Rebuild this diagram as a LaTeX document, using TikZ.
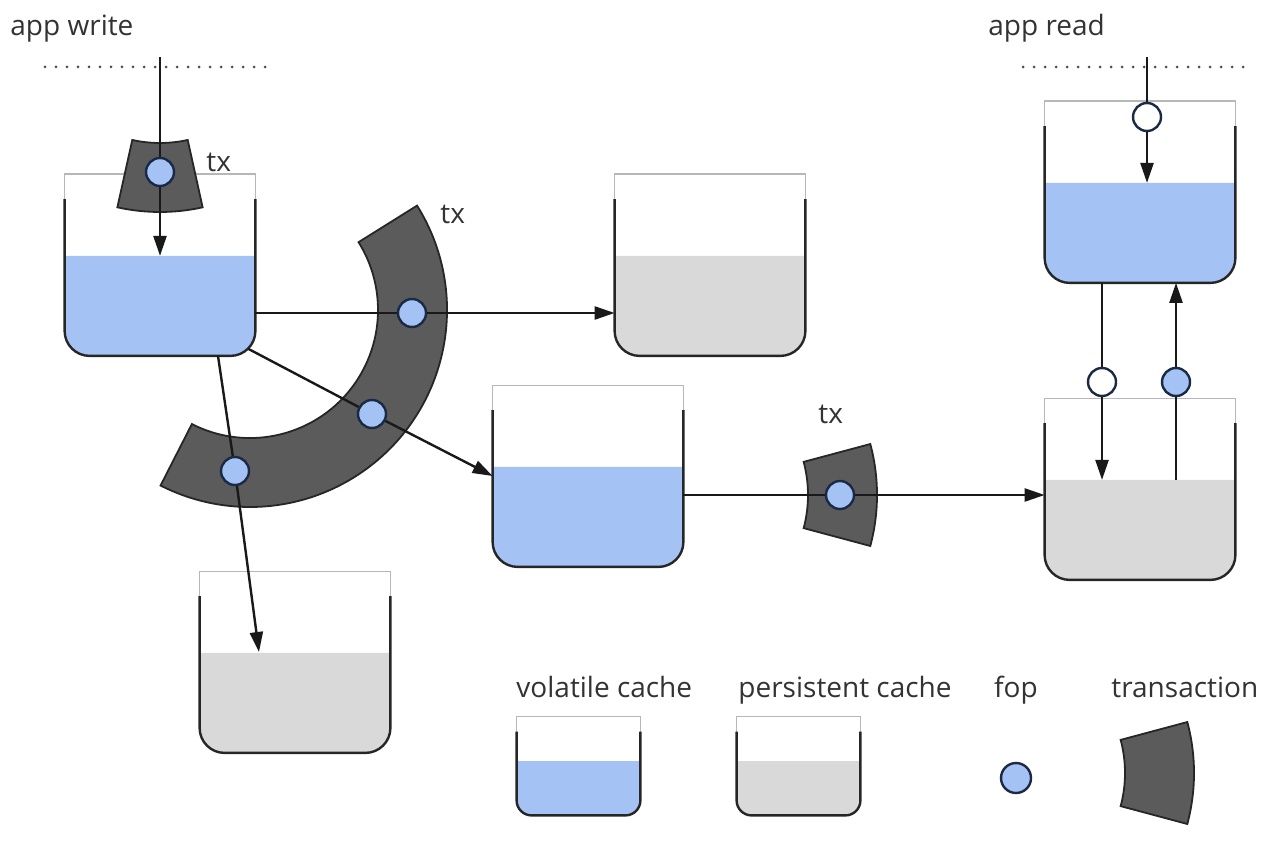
\documentclass[tikz,border=0pt]{standalone}
\usepackage{fontspec}
\setmainfont{Open Sans}
\usepackage{tikz}
\usetikzlibrary{arrows.meta,calc}

\definecolor{volblue}{HTML}{A4C2F4}
\definecolor{pergray}{HTML}{D9D9D9}
\definecolor{txgray}{HTML}{5B5B5B}
\definecolor{rimgray}{HTML}{B7B7B7}
\definecolor{fopline}{HTML}{1B2A44}
\definecolor{inkgray}{HTML}{333333}

\begin{document}
\begin{tikzpicture}[
    x=0.5pt, y=-0.5pt,
    font=\fontsize{14}{17}\selectfont,
    >={Triangle[length=10pt,width=6.5pt]},
    cache/.style={inner sep=0pt, minimum width=95pt, minimum height=90.5pt},
    small cache/.style={cache, minimum width=61.5pt, minimum height=49pt},
    fop/.style={circle, draw=fopline, line width=1.2pt, fill=volblue,
        inner sep=0pt, minimum size=14pt},
    empty fop/.style={fop, fill=white},
    band/.style={draw=black!85, line width=0.9pt, fill=txgray},
    flow/.style={->, line width=1.2pt, draw=black!90},
    cut/.style={line width=1.5pt, line cap=round, dash pattern=on 0pt off 5.5pt, draw=black!70},
    txt/.style={inner sep=0pt, text=inkgray, anchor=base west}
]
\useasboundingbox (0,0) rectangle (1277,845);

% Caches
\node[cache] (c1) at (160,265) {};
\node[cache] (c2) at (710,265) {};
\node[cache] (c3) at (588,476) {};
\node[cache] (c4) at (295,662) {};
\node[cache] (c5) at (1140,192) {};
\node[cache] (c6) at (1140,489) {};
\node[small cache] (lv) at (578.5,766) {};
\node[small cache] (lp) at (798.5,766) {};

\foreach \cn/\col/\rad in {c1/volblue/12.5, c2/pergray/12.5, c3/volblue/12.5,
    c4/pergray/12.5, c5/volblue/12.5, c6/pergray/12.5, lv/volblue/7.5, lp/pergray/7.5} {
  \coordinate (\cn-lvl) at ($(\cn.south)!.55!(\cn.north)$);
  \fill[\col, rounded corners=\rad pt] (\cn.west |- \cn-lvl) -- (\cn.south west)
      -- (\cn.south east) -- (\cn.east |- \cn-lvl);
  \draw[rimgray, line width=0.6pt] ([yshift=-\rad pt]\cn.north west) -- (\cn.north west)
      -- (\cn.north east) -- ([yshift=-\rad pt]\cn.north east);
  \draw[black!85, line width=1.2pt, rounded corners=\rad pt] ([yshift=-\rad pt]\cn.north west)
      -- (\cn.south west) -- (\cn.south east) -- ([yshift=-\rad pt]\cn.north east);
}

% Transactions
\foreach \cx/\cy/\angA/\angB in {250/310/-32/117, 160/15/77.5/102.5,
    680/495/-15/15, 997/773/-15/15}
  \draw[band] ($(\cx,\cy)+(\angA:197)$) arc[start angle=\angA, end angle=\angB, radius=197]
      -- ($(\cx,\cy)+(\angB:128)$) arc[start angle=\angB, end angle=\angA, radius=128] -- cycle;

% Fops
\node[fop] (f1) at (160,172) {};
\node[fop] (f2) at (412,313) {};
\node[fop] (f3) at (372,414) {};
\node[fop] (f4) at (235,471) {};
\node[fop] (f5) at (840,495) {};
\node[empty fop] (f6) at (1147,117) {};
\node[empty fop] (f7) at (1102,382) {};
\node[fop] (f8) at (1176,382) {};
\node[fop, minimum size=15pt] (lf) at (1016,778) {};

% Flows
\coordinate (wtop) at (160,57);
\coordinate (rtop) at (1147,57);
\coordinate (c4in) at (259,652);
\draw[flow] (wtop) -- (f1) -- (c1-lvl);
\draw[flow] (c1.east |- f2) -- (f2) -- (c2.west |- f2);
\draw[flow] ([xshift=-3.5pt,yshift=3.5pt]c1.south east) -- (f3) -- (c3.west);
\draw[flow] ($(c1.south)+(29pt,0pt)$) -- (f4) -- (c4in);
\draw[flow] (c3.east |- f5) -- (f5) -- (c6.west |- f5);
\draw[flow] (rtop) -- (f6) -- (rtop |- c5-lvl);
\draw[flow] (f7 |- c5.south) -- (f7) -- (f7 |- c6-lvl);
\draw[flow] (f8 |- c6-lvl) -- (f8) -- (f8 |- c5.south);

% App boundaries
\draw[cut] (45,67) -- (268,67);
\draw[cut] (1023,67) -- (1247,67);

% Labels
\node[txt] (wname) at (10,36) {app write};
\node[txt] (rname) at (988,36) {app read};
\node[txt] (tx1) at (206,172) {tx};
\node[txt] (tx2) at (440,223) {tx};
\node[txt] (tx3) at (818,423) {tx};
\node[txt] (vname) at (516,697) {volatile cache};
\node[txt] (pname) at (738,697) {persistent cache};
\node[txt, anchor=base] (fname) at (1016,697) {fop};
\node[txt] (tname) at (1111,697) {transaction};

\end{tikzpicture}
\end{document}
